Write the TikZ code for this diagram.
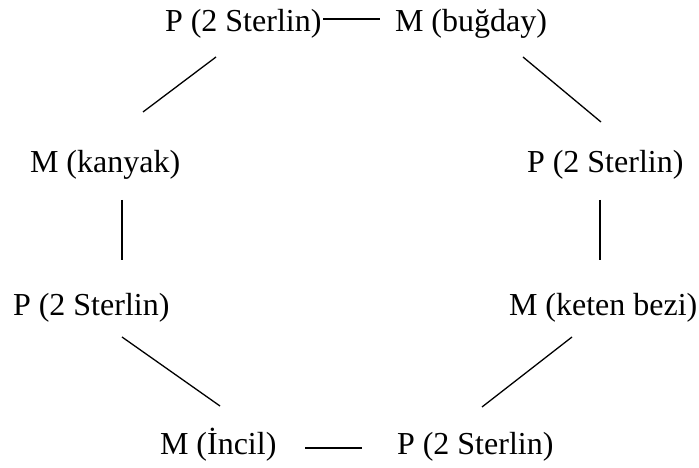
\documentclass[tikz,border=0pt]{standalone}
\usepackage{fontspec}
\setmainfont{Liberation Serif}
\newfontfamily\tnrfont{Liberation Serif}
\begin{document}
\begin{tikzpicture}[x=1pt,y=1pt,
  lbl/.style={anchor=base west,inner sep=0pt,outer sep=0pt,font=\tnrfont\fontsize{32}{38}\selectfont},
  conn/.style={line width=1.3pt}]
\useasboundingbox (0,0) rectangle (699,468);
% nodes
\node[lbl] (p1) at (165,436) {P (2 Sterlin)};
\node[lbl] (m1) at (395,436) {M (buğday)};
\node[lbl] (m2) at (30,295) {M (kanyak)};
\node[lbl] (p2) at (527,295) {P (2 Sterlin)};
\node[lbl] (p3) at (13,152) {P (2 Sterlin)};
\node[lbl] (m3) at (509,152) {M (keten bezi)};
\node[lbl] (m4) at (160,13) {M (İncil)};
\node[lbl] (p4) at (397,13) {P (2 Sterlin)};
% connector end points
\coordinate (t1) at (323,449); \coordinate (t2) at (380,449);
\coordinate (a1) at (216,411); \coordinate (a2) at (143,356);
\coordinate (b1) at (523,411); \coordinate (b2) at (601,346);
\coordinate (c1) at (122,268); \coordinate (c2) at (122,208);
\coordinate (d1) at (600,268); \coordinate (d2) at (600,208);
\coordinate (e1) at (122,131); \coordinate (e2) at (220,62);
\coordinate (f1) at (572,131); \coordinate (f2) at (482,61);
\coordinate (g1) at (305,20); \coordinate (g2) at (362,20);
\draw[conn] (t1) -- (t2);
\draw[conn] (a1) -- (a2);
\draw[conn] (b1) -- (b2);
\draw[conn] (c1) -- (c2);
\draw[conn] (d1) -- (d2);
\draw[conn] (e1) -- (e2);
\draw[conn] (f1) -- (f2);
\draw[conn] (g1) -- (g2);
\end{tikzpicture}
\end{document}
